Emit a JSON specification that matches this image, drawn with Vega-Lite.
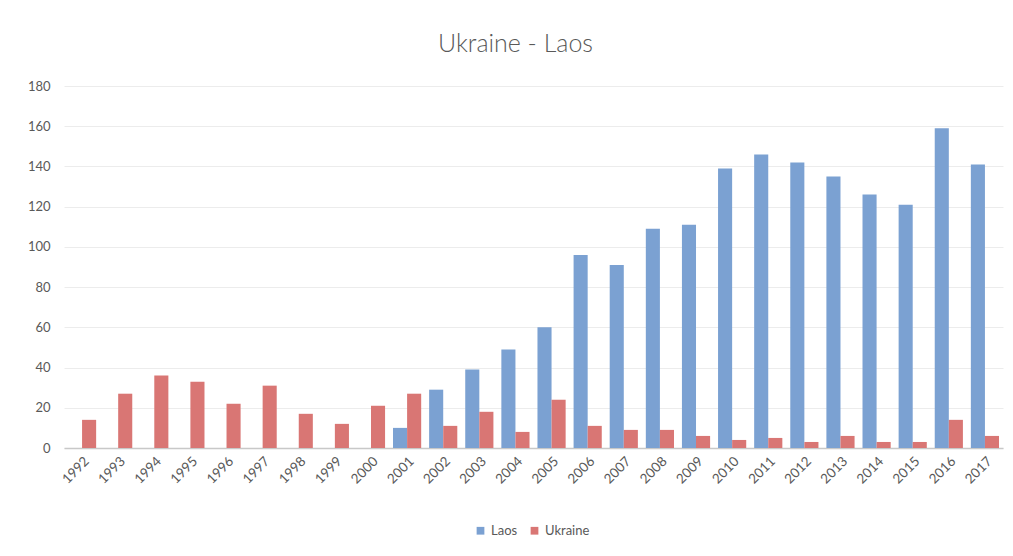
{
  "$schema": "https://vega.github.io/schema/vega-lite/v6.json",
  "width": 939,
  "height": 362,
  "autosize": {"type": "none"},
  "padding": {"left": 64, "top": 86, "right": 10, "bottom": 108},
  "background": "white",
  "title": {
    "text": "Ukraine  - Laos",
    "font": "Lato",
    "fontWeight": 300,
    "fontSize": 25,
    "color": "#595959",
    "offset": 23,
    "dx": -18
  },
  "data": {
    "values": [
      {"year": "1992", "country": "Ukraine", "value": 14},
      {"year": "1993", "country": "Ukraine", "value": 27},
      {"year": "1994", "country": "Ukraine", "value": 36},
      {"year": "1995", "country": "Ukraine", "value": 33},
      {"year": "1996", "country": "Ukraine", "value": 22},
      {"year": "1997", "country": "Ukraine", "value": 31},
      {"year": "1998", "country": "Ukraine", "value": 17},
      {"year": "1999", "country": "Ukraine", "value": 12},
      {"year": "2000", "country": "Ukraine", "value": 21},
      {"year": "2001", "country": "Laos", "value": 10},
      {"year": "2001", "country": "Ukraine", "value": 27},
      {"year": "2002", "country": "Laos", "value": 29},
      {"year": "2002", "country": "Ukraine", "value": 11},
      {"year": "2003", "country": "Laos", "value": 39},
      {"year": "2003", "country": "Ukraine", "value": 18},
      {"year": "2004", "country": "Laos", "value": 49},
      {"year": "2004", "country": "Ukraine", "value": 8},
      {"year": "2005", "country": "Laos", "value": 60},
      {"year": "2005", "country": "Ukraine", "value": 24},
      {"year": "2006", "country": "Laos", "value": 96},
      {"year": "2006", "country": "Ukraine", "value": 11},
      {"year": "2007", "country": "Laos", "value": 91},
      {"year": "2007", "country": "Ukraine", "value": 9},
      {"year": "2008", "country": "Laos", "value": 109},
      {"year": "2008", "country": "Ukraine", "value": 9},
      {"year": "2009", "country": "Laos", "value": 111},
      {"year": "2009", "country": "Ukraine", "value": 6},
      {"year": "2010", "country": "Laos", "value": 139},
      {"year": "2010", "country": "Ukraine", "value": 4},
      {"year": "2011", "country": "Laos", "value": 146},
      {"year": "2011", "country": "Ukraine", "value": 5},
      {"year": "2012", "country": "Laos", "value": 142},
      {"year": "2012", "country": "Ukraine", "value": 3},
      {"year": "2013", "country": "Laos", "value": 135},
      {"year": "2013", "country": "Ukraine", "value": 6},
      {"year": "2014", "country": "Laos", "value": 126},
      {"year": "2014", "country": "Ukraine", "value": 3},
      {"year": "2015", "country": "Laos", "value": 121},
      {"year": "2015", "country": "Ukraine", "value": 3},
      {"year": "2016", "country": "Laos", "value": 159},
      {"year": "2016", "country": "Ukraine", "value": 14},
      {"year": "2017", "country": "Laos", "value": 141},
      {"year": "2017", "country": "Ukraine", "value": 6}
    ]
  },
  "mark": {"type": "bar"},
  "encoding": {
    "x": {
      "field": "year",
      "type": "nominal",
      "title": null,
      "scale": {"paddingInner": 0.22, "paddingOuter": 0.11},
      "axis": {
        "labelAngle": -45,
        "labelFont": "Lato",
        "labelFontSize": 13.5,
        "labelColor": "#595959",
        "ticks": false,
        "labelPadding": 6,
        "domainColor": "#c8c8c8",
        "domainWidth": 1.5,
        "grid": false
      }
    },
    "xOffset": {
      "field": "country",
      "type": "nominal",
      "sort": ["Laos", "Ukraine"]
    },
    "y": {
      "field": "value",
      "type": "quantitative",
      "title": null,
      "scale": {"domain": [0, 180], "nice": false},
      "axis": {
        "values": [0, 20, 40, 60, 80, 100, 120, 140, 160, 180],
        "labelFont": "Lato",
        "labelFontSize": 13,
        "labelColor": "#595959",
        "labelPadding": 14,
        "ticks": false,
        "domain": false,
        "gridColor": "#ececec",
        "gridWidth": 1
      }
    },
    "color": {
      "field": "country",
      "type": "nominal",
      "title": null,
      "scale": {"domain": ["Laos", "Ukraine"], "range": ["#7ba1d2", "#d97674"]},
      "legend": {
        "orient": "none",
        "direction": "horizontal",
        "legendX": 410,
        "legendY": 438,
        "symbolType": "square",
        "symbolSize": 60,
        "symbolOpacity": 1,
        "labelFont": "Lato",
        "labelFontSize": 13,
        "labelColor": "#595959",
        "columnPadding": 10,
        "symbolOffset": 0
      }
    }
  },
  "config": {
    "view": {"stroke": null}
  }
}
